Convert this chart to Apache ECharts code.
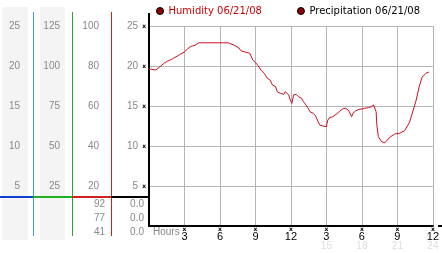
<!DOCTYPE html>
<html><head><meta charset="utf-8">
<script src="https://cdn.jsdelivr.net/npm/echarts@6/dist/echarts.min.js"></script>
<style>html,body{margin:0;padding:0;background:#fff}#c{width:442px;height:253px}</style>
</head><body><div id="c"></div>
<script>
// ---- data ----
const hours = [0,0.17,0.58,0.74,0.91,1.32,1.57,1.99,2.57,2.98,3.23,3.48,3.89,4.22,5.46,6.29,6.7,7.2,7.61,7.78,8.11,8.52,8.77,9.02,
  9.19,9.46,9.74,10.01,10.24,10.43,10.70,10.84,10.98,11.11,11.26,11.40,11.53,11.67,11.81,11.94,12.08,12.22,12.44,12.64,12.91,13.05,13.27,13.46,13.60,13.88,14.09,14.29,14.43,14.71,14.84,14.98,
  15.12,15.25,15.53,15.81,16.08,16.36,16.63,16.86,16.97,17.13,17.24,17.46,17.74,18.02,18.23,18.35,18.56,18.79,18.98,19.12,19.20,19.26,19.39,19.67,
  19.94,20.36,20.77,21.19,21.6,22.01,22.26,22.59,22.84,23.09,23.42,23.67];
const humidity = [19.6,19.6,19.5,19.3,19.9,20.4,20.6,20.9,21.4,21.75,22.1,22.4,22.6,22.9,22.9,22.9,22.9,22.6,22.25,21.9,21.75,21.6,20.75,20.4,
  20.1,19.5,19.08,18.46,18.25,17.63,17.42,16.79,17.0,16.58,16.79,16.46,16.79,16.91,16.38,15.75,15.33,16.38,16.46,16.16,15.96,15.54,15.13,14.71,14.29,14.09,13.75,13.04,12.63,12.5,12.63,12.41,
  13.25,13.54,13.66,13.96,14.29,14.63,14.71,14.5,14.63,13.66,14.09,14.38,14.58,14.63,14.71,14.5,14.79,14.91,15.13,15.04,14.29,12.63,11.16,10.54,
  10.4,11.1,11.5,11.6,11.9,12.9,14.1,15.75,17.4,18.6,19.1,19.25];
const precipitation = [];
const xTickLabels = ['3','6','9','12','3','6','9','12'];
const xTick24 = ['','','','','15','18','21','24'];
const col1Ticks = [5,10,15,20,25];
const col2Ticks = [25,50,75,100,125];
const col3Ticks = [20,40,60,80,100];
const humidityStats = ['92','77','41'];
const precipStats = ['0.0','0.0','0.0'];
const legendNames = ['Humidity 06/21/08','Precipitation 06/21/08'];

// ---- chart ----
const chart = echarts.init(document.getElementById('c'), null, {renderer:'canvas'});
const GL = 149, GT = 26, GW = 290, GH = 200;
const labFont = {fontFamily:'Liberation Sans', fontSize:10, color:'#888'};
function yAx(max, interval, offset, margin, ticks) {
  return {type:'value', min:0, max:max, interval:interval, position:'left', offset:offset,
    axisLine:{show:false}, axisTick:{show:false}, splitLine:{show:false},
    axisLabel:Object.assign({margin:margin, formatter:v => ticks.includes(v) ? String(v) : ''}, labFont)};
}
const rowY = [204, 218, 232];
const graphics = [
  {type:'rect', shape:{x:2,y:7,width:26,height:233}, style:{fill:'#f4f4f4'}, z:-10},
  {type:'rect', shape:{x:40,y:7,width:25,height:233}, style:{fill:'#f4f4f4'}, z:-10},
  {type:'rect', shape:{x:33,y:12,width:1,height:224}, style:{fill:'#3aa0d8'}},
  {type:'rect', shape:{x:72,y:12,width:1,height:224}, style:{fill:'#22aa22'}},
  {type:'rect', shape:{x:111,y:12,width:1,height:224}, style:{fill:'#cc2020'}},
  {type:'rect', shape:{x:148,y:13,width:2,height:14}, style:{fill:'#000'}},
  {type:'rect', shape:{x:438,y:225,width:4,height:2}, style:{fill:'#000'}},
  {type:'rect', shape:{x:0,y:196,width:33,height:2}, style:{fill:'#1040d0'}},
  {type:'rect', shape:{x:33,y:196,width:39,height:2}, style:{fill:'#20b020'}},
  {type:'rect', shape:{x:72,y:196,width:39,height:2}, style:{fill:'#d02020'}},
  {type:'rect', shape:{x:111,y:196,width:38,height:2}, style:{fill:'#000'}},
  {type:'text', x:153, y:227, style:{text:'Hours', font:'10px "Liberation Sans"', fill:'#888'}}
];
humidityStats.forEach((t,i) => graphics.push({type:'text', x:105, y:rowY[i], style:{text:t, font:'10px "Liberation Sans"', fill:'#888', align:'right', verticalAlign:'middle'}}));
precipStats.forEach((t,i) => graphics.push({type:'text', x:144, y:rowY[i], style:{text:t, font:'10px "Liberation Sans"', fill:'#888', align:'right', verticalAlign:'middle'}}));

const gridLine = {show:true, lineStyle:{color:'#b4b4b4', width:1, type:'solid'}};
const option = {
  animation:false,
  backgroundColor:'#fff',
  grid:{left:GL, top:GT, width:GW, height:GH, containLabel:false},
  legend:{left:151, top:1, icon:'circle', itemWidth:7, itemHeight:7, itemGap:35,
    itemStyle:{color:'#8a0000', borderColor:'#000', borderWidth:1},
    textStyle:{fontFamily:'DejaVu Sans', fontSize:10},
    data:[{name:legendNames[0], textStyle:{color:'#cc0000'}}, {name:legendNames[1], textStyle:{color:'#000'}}]},
  xAxis:{type:'value', min:0, max:24, interval:3,
    axisLine:{show:true, onZero:false, lineStyle:{color:'#000', width:2}},
    axisTick:{show:true, length:0, lineStyle:{color:'transparent'}},
    splitLine:gridLine,
    axisLabel:{margin:1, formatter:v => {
      if (v === 0) return '';
      const i = Math.round(v/3) - 1;
      return '{m|x}\n{v|' + xTickLabels[i] + '}' + (xTick24[i] ? '\n{f|' + xTick24[i] + '}' : '');
    }, rich:{
      m:{fontFamily:'DejaVu Sans', fontSize:6, lineHeight:5, color:'#000', fontWeight:'bold'},
      v:{fontFamily:'Liberation Sans', fontSize:11, lineHeight:10, color:'#000'},
      f:{fontFamily:'Liberation Sans', fontSize:10, lineHeight:9, color:'#ddd'}
    }}},
  yAxis:[
    {type:'value', min:0, max:25, interval:5, position:'left',
      axisLine:{show:true, lineStyle:{color:'#000', width:2}},
      axisTick:{show:true, length:0, lineStyle:{color:'transparent'}},
      splitLine:gridLine,
      axisLabel:Object.assign({margin:11, formatter:v => v === 0 ? '' : String(v)}, labFont)},
    {type:'value', min:0, max:25, interval:5, position:'left', offset:0,
      axisLine:{show:false}, axisTick:{show:false}, splitLine:{show:false},
      axisLabel:{margin:3, formatter:v => v === 0 ? '' : 'x', fontFamily:'DejaVu Sans', fontSize:6, fontWeight:'bold', color:'#000'}},
    yAx(25, 5, 116, 13, col1Ticks),
    yAx(125, 25, 77, 12, col2Ticks),
    yAx(100, 20, 38, 12, col3Ticks)
  ],
  series:[
    {name:legendNames[0], type:'line', yAxisIndex:0, showSymbol:false, color:'#cc1020',
      lineStyle:{width:1, color:'#cc1020'}, data:hours.map((h,i) => [h, humidity[i]]), z:5},
    {name:legendNames[1], type:'line', yAxisIndex:0, showSymbol:false, color:'#8a0000', data:precipitation}
  ],
  graphic:graphics
};
chart.setOption(option);
</script></body></html>
